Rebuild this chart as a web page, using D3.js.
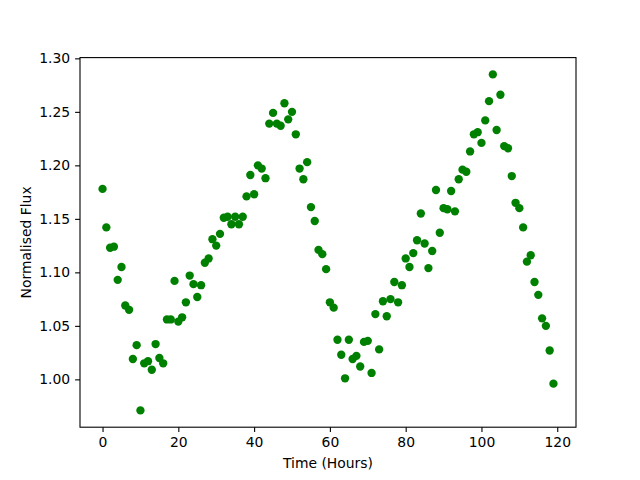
<!DOCTYPE html>
<html><head><meta charset="utf-8">
<script src="https://cdn.jsdelivr.net/npm/d3@7"></script>
<style>body{margin:0;background:#fff}svg{display:block}</style>
</head><body>
<script>
const hours = d3.range(0, 120);
const flux = [1.178,1.142,1.123,1.124,1.093,1.105,1.069,1.065,1.019,1.032,
0.971,1.015,1.017,1.009,1.033,1.020,1.015,1.056,1.056,1.092,
1.054,1.058,1.072,1.097,1.089,1.077,1.088,1.109,1.113,1.131,
1.125,1.136,1.151,1.152,1.145,1.152,1.145,1.152,1.171,1.191,
1.173,1.200,1.197,1.188,1.239,1.249,1.239,1.237,1.258,1.243,
1.250,1.229,1.197,1.187,1.203,1.161,1.148,1.121,1.117,1.103,
1.072,1.067,1.037,1.023,1.001,1.037,1.019,1.022,1.012,1.035,
1.036,1.006,1.061,1.028,1.073,1.059,1.075,1.091,1.072,1.088,
1.113,1.105,1.118,1.130,1.155,1.127,1.104,1.120,1.177,1.137,
1.160,1.159,1.176,1.157,1.187,1.196,1.194,1.213,1.229,1.231,
1.221,1.242,1.260,1.285,1.233,1.266,1.218,1.216,1.190,1.165,
1.160,1.142,1.110,1.116,1.091,1.079,1.057,1.050,1.027,0.996];
const xTicks = [0,20,40,60,80,100,120];
const yTicks = [1.00,1.05,1.10,1.15,1.20,1.25,1.30];
const xLabel = "Time (Hours)";
const yLabel = "Normalised Flux";

const W = 640, H = 480;
const L = 80, R = 576, T = 57.6, B = 427.2;
const svg = d3.select("body").append("svg").attr("width", W).attr("height", H)
  .style("font-family", "DejaVu Sans, sans-serif");

const xmin = d3.min(hours), xmax = d3.max(hours);
const ymin = d3.min(flux), ymax = d3.max(flux);
const xm = (xmax - xmin) * 0.05, ym = (ymax - ymin) * 0.05;
const x = d3.scaleLinear().domain([xmin - xm, xmax + xm]).range([L, R]);
const y = d3.scaleLinear().domain([ymin - ym, ymax + ym]).range([B, T]);

const fs = "13.9px";
const gx = svg.append("g").attr("transform", `translate(0,${B})`)
  .call(d3.axisBottom(x).tickValues(xTicks).tickFormat(d3.format("d")).tickSize(4.9).tickPadding(4.9));
const gy = svg.append("g").attr("transform", `translate(${L},0)`)
  .call(d3.axisLeft(y).tickValues(yTicks).tickFormat(d3.format(".2f")).tickSize(4.9).tickPadding(4.9));
[gx, gy].forEach(g => {
  g.select(".domain").remove();
  g.selectAll("line").attr("stroke", "#000").attr("stroke-width", 1.1);
  g.selectAll("text").attr("fill", "#000").style("font-size", fs).style("font-family", "DejaVu Sans, sans-serif");
});

svg.append("g").selectAll("circle").data(hours).join("circle")
  .attr("cx", (d) => x(d)).attr("cy", (d, i) => y(flux[i])).attr("r", 4.17)
  .attr("fill", "#008000");

svg.append("rect").attr("x", L).attr("y", T).attr("width", R - L).attr("height", B - T)
  .attr("fill", "none").attr("stroke", "#000").attr("stroke-width", 1.1);

svg.append("text").attr("x", (L + R) / 2).attr("y", 468).attr("text-anchor", "middle")
  .style("font-size", fs).text(xLabel);
svg.append("text").attr("transform", `translate(31,${(T + B) / 2}) rotate(-90)`)
  .attr("text-anchor", "middle").style("font-size", fs).text(yLabel);
</script>
</body></html>
